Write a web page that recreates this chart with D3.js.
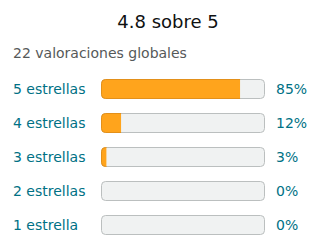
<!DOCTYPE html>
<html><head><meta charset="utf-8">
<script src="https://cdn.jsdelivr.net/npm/d3@7/dist/d3.min.js"></script>
<style>html,body{margin:0;padding:0;background:#fff;}svg{display:block;font-family:"DejaVu Sans",sans-serif;}</style>
</head><body>
<svg id="c" width="320" height="252"></svg>
<script>
const title = "4.8 sobre 5";
const subtitle = "22 valoraciones globales";
const categories = ["5 estrellas", "4 estrellas", "3 estrellas", "2 estrellas", "1 estrella"];
const percents = [85, 12, 3, 0, 0];

const svg = d3.select("#c");
svg.append("text").attr("x", 168).attr("y", 28).attr("text-anchor", "middle")
  .attr("font-size", 18).attr("fill", "#0f1111").text(title);
svg.append("text").attr("x", 13).attr("y", 58)
  .attr("font-size", 14).attr("fill", "#565959").text(subtitle);

const bh = 20, step = 34;
const yb = d3.scaleBand().domain(categories).range([79, 79 + step*4 + bh])
  .paddingInner((step - bh)/step).paddingOuter(0);
const x = d3.scaleLinear().domain([0, 100]).range([101.5, 264.5]);

const g = svg.selectAll("g.row").data(categories).join("g").attr("class", "row");
g.append("rect").attr("x", x(0)).attr("y", d => yb(d) + 0.5)
  .attr("width", x(100) - x(0)).attr("height", bh - 1)
  .attr("rx", 4).attr("fill", "#f0f2f2").attr("stroke", "#bbbfbf").attr("stroke-width", 1);
g.each(function(d, i) {
  if (percents[i] <= 0) return;
  const w = x(percents[i]) - x(0);
  const sel = d3.select(this);
  const cid = "clip" + i;
  sel.append("clipPath").attr("id", cid).append("rect")
    .attr("x", x(0) - 1).attr("y", yb(d)).attr("width", w + 1).attr("height", bh);
  sel.append("rect").attr("x", x(0)).attr("y", yb(d) + 0.5)
    .attr("width", x(100) - x(0)).attr("height", bh - 1)
    .attr("rx", 4).attr("fill", "#ffa41c").attr("stroke", "#e3901a").attr("stroke-width", 1)
    .attr("clip-path", "url(#" + cid + ")");
});
g.append("text").attr("x", 13).attr("y", d => yb(d) + bh/2 + 5)
  .attr("font-size", 14).attr("fill", "#007185").text(d => d);
g.append("text").attr("x", 276).attr("y", d => yb(d) + bh/2 + 5)
  .attr("font-size", 14).attr("fill", "#007185").text((d, i) => percents[i] + "%");
</script>
</body></html>
